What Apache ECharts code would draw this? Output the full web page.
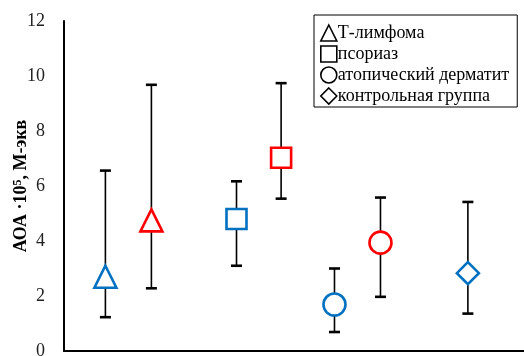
<!DOCTYPE html>
<html><head><meta charset="utf-8">
<script src="https://cdn.jsdelivr.net/npm/echarts@6/dist/echarts.min.js"></script>
<style>html,body{margin:0;padding:0;background:#fff}#c{width:524px;height:356px}</style>
</head><body><div id="c"></div>
<script>
// group names (legend)
var groups = ['Т-лимфома', 'псориаз', 'атопический дерматит', 'контрольная группа'];
var symbols = ['triangle', 'rect', 'circle', 'diamond'];
// points: group index, x position, mean, low, high, colour key
var pointGroup = [0, 0, 1, 1, 2, 2, 3];
var pointX     = [0.9, 1.9, 3.75, 4.72, 5.88, 6.88, 8.78];
var pointMean  = [2.7, 4.75, 4.8, 7.03, 1.69, 3.94, 2.83];
var pointLow   = [1.23, 2.28, 3.1, 5.54, 0.69, 1.97, 1.36];
var pointHigh  = [6.56, 9.68, 6.17, 9.74, 3.0, 5.58, 5.42];
var pointColor = ['blue', 'red', 'blue', 'red', 'blue', 'red', 'blue'];
var yTicks = [0, 2, 4, 6, 8, 10, 12];

var palette = {blue: '#0070C0', red: '#FF0000'};
var serif = '"Times New Roman", "Liberation Serif", serif';

var series = [];
// error bars
var errData = pointX.map(function (x, i) { return [x, pointLow[i], pointHigh[i]]; });
series.push({
  type: 'custom', name: 'err', silent: true, z: 1,
  data: errData,
  encode: {x: 0, y: [1, 2]},
  renderItem: function (params, api) {
    var lo = api.coord([api.value(0), api.value(1)]);
    var hi = api.coord([api.value(0), api.value(2)]);
    var hw = 5.5;
    var st = {stroke: '#000', lineWidth: 1.6};
    var cap = {stroke: '#000', lineWidth: 2.6};
    return {type: 'group', children: [
      {type: 'line', shape: {x1: lo[0], y1: lo[1], x2: hi[0], y2: hi[1]}, style: st},
      {type: 'line', shape: {x1: lo[0] - hw, y1: lo[1], x2: lo[0] + hw, y2: lo[1]}, style: cap},
      {type: 'line', shape: {x1: hi[0] - hw, y1: hi[1], x2: hi[0] + hw, y2: hi[1]}, style: cap}
    ]};
  }
});
var sizes = [22, 20, 22, 22];
groups.forEach(function (g, gi) {
  var d = [];
  pointGroup.forEach(function (pg, i) {
    if (pg === gi) d.push({value: [pointX[i], pointMean[i]],
      itemStyle: {color: '#fff', opacity: 1, borderColor: palette[pointColor[i]], borderWidth: 2.6}});
  });
  series.push({type: 'scatter', name: g, symbol: symbols[gi], symbolSize: sizes[gi], z: 3,
    itemStyle: {opacity: 1}, data: d});
});

var chart = echarts.init(document.getElementById('c'));
chart.setOption({
  animation: false,
  grid: {left: 64, right: 0, top: 21, bottom: 5, containLabel: false, outerBoundsMode: 'none'},
  legend: {
    orient: 'vertical', left: 314, top: 15,
    padding: [9, 8, 2, 6], itemGap: 3, itemWidth: 16, itemHeight: 16,
    borderColor: '#000', borderWidth: 1, backgroundColor: '#fff',
    textStyle: {fontFamily: serif, fontSize: 18, color: '#000', padding: [0, 0, 0, -4]},
    data: groups.map(function (g, gi) {
      return {name: g, icon: symbols[gi], itemStyle: {color: '#fff', opacity: 1, borderColor: '#000', borderWidth: 1.6}};
    })
  },
  xAxis: {
    type: 'value', min: 0, max: 10,
    axisLine: {lineStyle: {color: '#000', width: 2}},
    axisTick: {show: false}, axisLabel: {show: false}, splitLine: {show: false}
  },
  yAxis: {
    type: 'value', min: yTicks[0], max: yTicks[yTicks.length - 1], interval: 2,
    axisLine: {show: true, lineStyle: {color: '#000', width: 2}},
    axisTick: {show: false}, splitLine: {show: false},
    axisLabel: {fontFamily: serif, fontSize: 18, color: '#222', margin: 19},
    name: '{b|АОА ·10}{s|5}{b|, М-экв}',
    nameLocation: 'middle', nameRotate: 90, nameGap: 34, nameMoveOverlap: false,
    nameTextStyle: {
      rich: {
        b: {fontFamily: serif, fontSize: 18, fontWeight: 'bold', color: '#000'},
        s: {fontFamily: serif, fontSize: 12, fontWeight: 'bold', color: '#000', verticalAlign: 'top', padding: [0, 0, 6, 0]}
      }
    }
  },
  series: series
});
</script>
</body></html>
